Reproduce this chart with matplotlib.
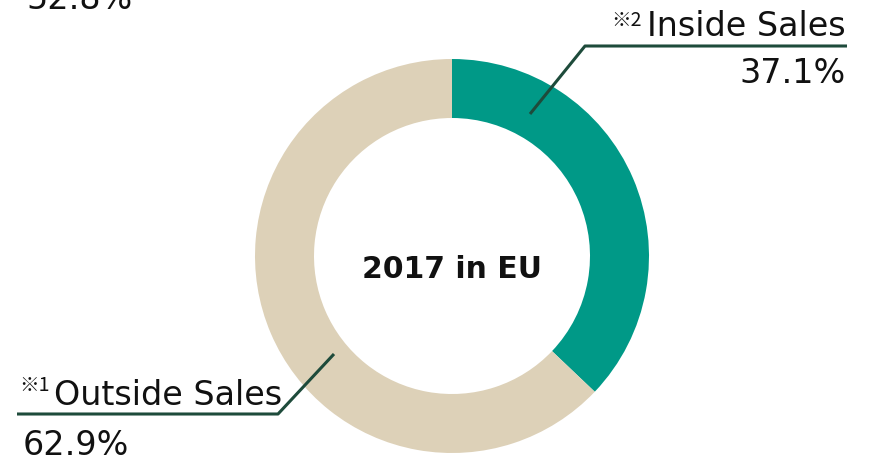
import matplotlib
matplotlib.use("Agg")
import matplotlib.pyplot as plt

W, H = 872, 457

# data
labels = ["Inside Sales", "Outside Sales"]
notes = ["※2", "※1"]
shares = [37.1, 62.9]
colors = ["#009987", "#ddd1b8"]
title = "2017 in EU"
cut_label = "52.8%"

line_col = "#1e4b3b"
latin = ["DejaVu Sans"]
cjk = ["Noto Sans CJK JP", "DejaVu Sans"]


def py(y):
    # pixel row (from top) -> data y
    return H - y


fig = plt.figure(figsize=(W / 100, H / 100), dpi=100)
ax = fig.add_axes([0, 0, 1, 1])

ax.pie(shares, colors=colors, startangle=90, counterclock=False,
       radius=197, center=(452, py(256)),
       wedgeprops=dict(width=59, linewidth=0))

ax.set_xlim(0, W)
ax.set_ylim(0, H)
ax.set_aspect("equal")
ax.axis("off")

ax.text(452, py(270), title, ha="center", va="center",
        fontsize=21.5, fontweight="bold", family=latin, color="#111111")

# Inside Sales label (upper right)
ax.plot([530, 585, 847], [py(114), py(46), py(46)], color=line_col, lw=2.2,
        solid_capstyle="butt")
ax.text(846, py(36), labels[0], ha="right", va="baseline",
        fontsize=24, family=latin, color="#111111")
ax.text(846, py(83), f"{shares[0]:.1f}%", ha="right", va="baseline",
        fontsize=24, family=latin, color="#111111")
ax.text(611, py(26), notes[0], ha="left", va="baseline",
        fontsize=14, family=cjk, color="#111111")

# Outside Sales label (lower left)
ax.plot([334, 278, 17], [py(354), py(414), py(414)], color=line_col, lw=2.2,
        solid_capstyle="butt")
ax.text(54, py(405), labels[1], ha="left", va="baseline",
        fontsize=24, family=latin, color="#111111")
ax.text(23, py(455), f"{shares[1]:.1f}%", ha="left", va="baseline",
        fontsize=24, family=latin, color="#111111")
ax.text(19, py(391), notes[1], ha="left", va="baseline",
        fontsize=14, family=cjk, color="#111111")

# label of the neighbouring chart, cut by the top edge
ax.text(26, py(9), cut_label, ha="left", va="baseline",
        fontsize=24, family=latin, color="#111111", clip_on=False)

fig.savefig("out.png", dpi=100)
